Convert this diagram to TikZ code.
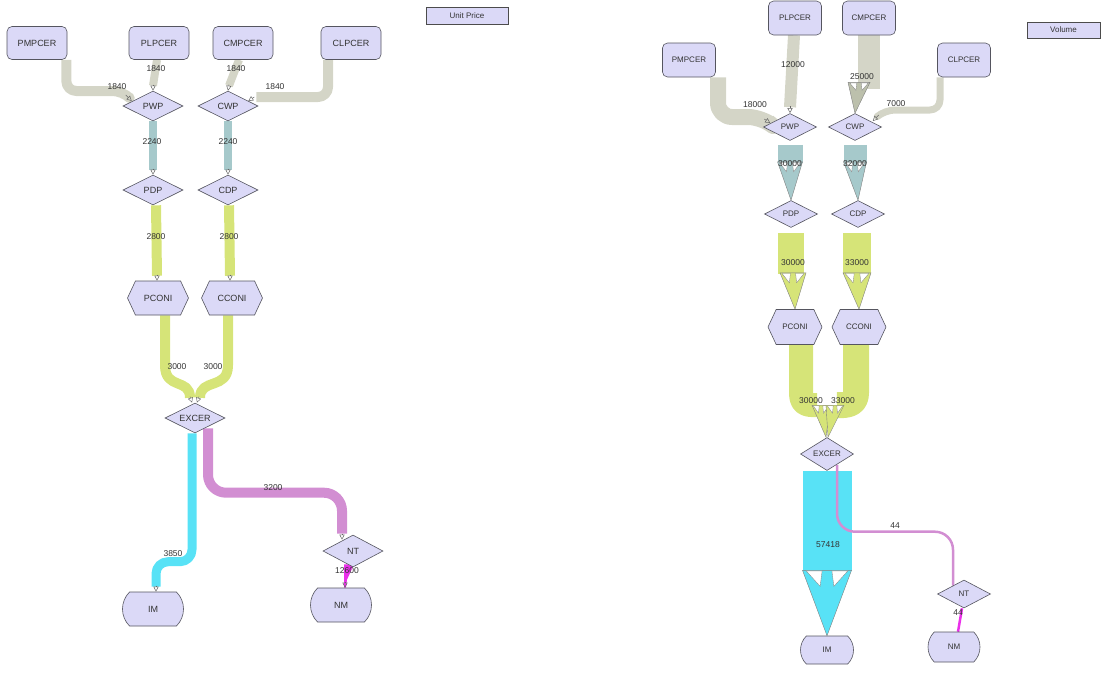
\documentclass[tikz,border=0pt]{standalone}
\usepackage{fontspec}
\setmainfont{Liberation Sans}
\usetikzlibrary{shapes.geometric,shapes.symbols,shapes.misc,calc,arrows.meta}
\definecolor{lav}{RGB}{219,217,247}
\definecolor{nborder}{RGB}{85,85,95}
\definecolor{gflow}{RGB}{212,213,199}
\definecolor{gflowd}{RGB}{188,192,172}
\definecolor{tflow}{RGB}{166,201,203}
\definecolor{yflow}{RGB}{214,228,120}
\definecolor{cflow}{RGB}{88,226,246}
\definecolor{pflow}{RGB}{210,142,210}
\definecolor{mflow}{RGB}{234,48,234}
\pgfdeclarelayer{bg}
\pgfsetlayers{bg,main}
\newcommand{\bigarrow}[5]{%
  \coordinate (ba) at #2; \coordinate (bt) at #4;
  \fill[#1, draw=black!50, line width=.4pt] ($(ba)+(-#3,0)$) -- ($(ba)+(#3,0)$) -- (bt) -- cycle;
  \fill[white, draw=black!50, line width=.3pt] ($(ba)+(-0.85*#3,0.6)$) -- ($(ba)+(-0.2*#3,0.6)$) -- ($(ba)+(-0.28*#3,#5)$) -- cycle;
  \fill[white, draw=black!50, line width=.3pt] ($(ba)+(0.85*#3,0.6)$) -- ($(ba)+(0.2*#3,0.6)$) -- ($(ba)+(0.28*#3,#5)$) -- cycle;
}
\begin{document}
\begin{tikzpicture}[x=1pt,y=-1pt,
  nd/.style={draw=nborder, fill=lav, line width=.6pt, inner sep=0pt, text=black!80},
  boxL/.style={nd, rectangle, rounded corners=5pt, minimum width=60pt, minimum height=33pt, font=\fontsize{9}{10}\selectfont},
  boxR/.style={nd, rectangle, rounded corners=5pt, minimum width=53pt, minimum height=34pt, font=\fontsize{8}{9}\selectfont},
  diaL/.style={nd, diamond, aspect=2, minimum width=60pt, minimum height=30pt, font=\fontsize{9}{10}\selectfont},
  diaR/.style={nd, diamond, aspect=2, minimum width=53pt, minimum height=27pt, font=\fontsize{8}{9}\selectfont},
  hexL/.style={nd, signal, signal to=east and west, signal pointer angle=130, minimum width=61pt, minimum height=34pt, font=\fontsize{9}{10}\selectfont},
  hexR/.style={nd, signal, signal to=east and west, signal pointer angle=130, minimum width=54pt, minimum height=35pt, font=\fontsize{8}{9}\selectfont},
  termL/.style={nd, rounded rectangle, rounded rectangle arc length=90, minimum width=61pt, minimum height=34pt, font=\fontsize{9}{10}\selectfont},
  termR/.style={nd, rounded rectangle, rounded rectangle arc length=90, minimum width=53pt, minimum height=28pt, font=\fontsize{8}{9}\selectfont},
  legend/.style={draw=black!70, fill=lav, line width=.6pt, inner sep=0pt, font=\fontsize{8}{9}\selectfont, text=black!80},
  lbl/.style={font=\fontsize{8.5}{9}\selectfont, text=black!80, inner sep=0pt},
  stip/.style={-{Triangle[open,length=5pt,width=5pt]}, draw=black!60, line width=.5pt},
  fl/.style={line cap=butt, line join=round},
]
\useasboundingbox (0,0) rectangle (1108,673);

% ---------- left panel nodes ----------
\node[boxL] (lPMPCER) at (37,43) {PMPCER};
\node[boxL] (lPLPCER) at (159,43) {PLPCER};
\node[boxL] (lCMPCER) at (243,43) {CMPCER};
\node[boxL] (lCLPCER) at (351,43) {CLPCER};
\node[diaL] (lPWP) at (153,106) {PWP};
\node[diaL] (lCWP) at (228,106) {CWP};
\node[diaL] (lPDP) at (153,190) {PDP};
\node[diaL] (lCDP) at (228,190) {CDP};
\node[hexL] (lPCONI) at (158,298) {PCONI};
\node[hexL] (lCCONI) at (232,298) {CCONI};
\node[diaL] (lEXCER) at (195,418) {EXCER};
\node[diaL, minimum height=32pt] (lNT) at (353,551) {NT};
\node[termL] (lIM) at (153,609) {IM};
\node[termL] (lNM) at (341,605) {NM};
\node[legend, minimum width=82pt, minimum height=17pt] (lLeg) at (467,15.5) {Unit Price};

% ---------- right panel nodes ----------
\node[boxR] (rPLPCER) at (795,18) {PLPCER};
\node[boxR] (rCMPCER) at (869,18) {CMPCER};
\node[boxR] (rPMPCER) at (689,60) {PMPCER};
\node[boxR] (rCLPCER) at (964,60) {CLPCER};
\node[diaR] (rPWP) at (790,127) {PWP};
\node[diaR] (rCWP) at (855,127) {CWP};
\node[diaR] (rPDP) at (791,214) {PDP};
\node[diaR] (rCDP) at (858,214) {CDP};
\node[hexR] (rPCONI) at (795,327) {PCONI};
\node[hexR] (rCCONI) at (859,327) {CCONI};
\node[diaR, minimum height=33pt] (rEXCER) at (827,454) {EXCER};
\node[diaR, minimum height=28pt] (rNT) at (964,594) {NT};
\node[termR] (rIM) at (827,650) {IM};
\node[termR, minimum height=30pt, minimum width=52pt] (rNM) at (954,647) {NM};
\node[legend, minimum width=73pt, minimum height=16pt] (rLeg) at (1063.5,30) {Volume};

\begin{pgfonlayer}{bg}
% ---------- left panel flows ----------
\draw[fl, gflow, line width=10pt, rounded corners=10pt] ([xshift=-1pt]lPMPCER.south east) |- ($(lPWP.west)+(0,-15)$) -- ($(lPWP.west)+(6,-9)$);
\draw[stip] ($(lPWP.west)+(3,-11)$) -- ($(lPWP.west)+(9,-5)$);
\draw[fl, gflow, line width=8pt] ($(lPLPCER.south)+(-2,0)$) -- ($(lPWP.north)+(0,-5)$);
\draw[stip] ($(lPWP.north)+(0,-6)$) -- (lPWP.north);
\draw[fl, gflow, line width=8pt] ($(lCMPCER.south)+(-4,0)$) -- ($(lCWP.north)+(1,-5)$);
\draw[stip] ($(lCWP.north)+(1,-6)$) -- ($(lCWP.north)+(0,0)$);
\draw[fl, gflow, line width=10pt, rounded corners=10pt] ($(lCLPCER.south)+(-23,0)$) |- ($(lCWP.east)+(-2,-9)$);
\draw[stip] ($(lCWP.east)+(-4,-9)$) -- ($(lCWP.east)+(-10,-5)$);

\draw[fl, tflow, line width=8pt] (lPWP.south) -- ($(lPDP.north)+(0,-5)$);
\draw[stip] ($(lPDP.north)+(0,-6)$) -- (lPDP.north);
\draw[fl, tflow, line width=8pt] (lCWP.south) -- ($(lCDP.north)+(0,-5)$);
\draw[stip] ($(lCDP.north)+(0,-6)$) -- (lCDP.north);

\draw[fl, yflow, line width=10pt] ($(lPDP.south)+(3,0)$) -- ($(lPCONI.north)+(-1,-5)$);
\draw[stip] ($(lPCONI.north)+(-1,-6)$) -- ($(lPCONI.north)+(-1,0)$);
\draw[fl, yflow, line width=10pt] ($(lCDP.south)+(1,0)$) -- ($(lCCONI.north)+(-2,-5)$);
\draw[stip] ($(lCCONI.north)+(-2,-6)$) -- ($(lCCONI.north)+(-2,0)$);

\draw[fl, yflow, line width=10pt] ($(lPCONI.south)+(7,0)$) -- ($(lPCONI.south)+(7,50)$) .. controls ($(lPCONI.south)+(7,75)$) and ($(lEXCER.north)+(-5,-25)$) .. ($(lEXCER.north)+(-5,-5)$);
\draw[stip] ($(lEXCER.north)+(-5,-6)$) -- ($(lEXCER.north)+(-3,0)$);
\draw[fl, yflow, line width=10pt] ($(lCCONI.south)+(-4,0)$) -- ($(lCCONI.south)+(-4,50)$) .. controls ($(lCCONI.south)+(-4,75)$) and ($(lEXCER.north)+(5,-25)$) .. ($(lEXCER.north)+(5,-5)$);
\draw[stip] ($(lEXCER.north)+(4,-6)$) -- ($(lEXCER.north)+(2,0)$);

\draw[fl, cflow, line width=9pt, rounded corners=12pt] ($(lEXCER.south)+(-3,0)$) |- ($(lIM.north)+(3,-30)$) -- ($(lIM.north)+(3,-5)$);
\draw[stip] ($(lIM.north)+(3,-6)$) -- ($(lIM.north)+(3,0)$);

\draw[fl, pflow, line width=10pt, rounded corners=18pt] ($(lEXCER.south)+(13,-5)$) |- ($(lNT.north)+(-11,-42)$) -- ($(lNT.north)+(-11,-1)$);
\draw[stip] ($(lNT.north)+(-11,-1)$) -- ($(lNT.north)+(-11,5)$);

\fill[mflow] ($(lNT.south)+(-9,-3)$) -- ($(lNT.south)+(1,-3)$) -- ($(lNM.north)+(6,-8)$) -- ($(lNM.north)+(5,0)$) -- ($(lNM.north)+(3,0)$) -- cycle;
\draw[stip] ($(lNM.north)+(4,-6)$) -- ($(lNM.north)+(4,0)$);

% ---------- right panel flows ----------
\draw[fl, gflow, line width=16pt, rounded corners=14pt] ($(rPMPCER.south)+(29,0)$) |- ($(rPWP.west)+(-1,-10)$) -- ($(rPWP.west)+(5,-5)$);
\draw[stip] ($(rPWP.west)+(1,-8)$) -- ($(rPWP.west)+(7,-4)$);
\draw[fl, gflow, line width=12pt] ($(rPLPCER.south)+(-1,0)$) -- ($(rPWP.north)+(0,-6)$);
\draw[stip] ($(rPWP.north)+(0,-7)$) -- (rPWP.north);
\draw[fl, gflow, line width=22pt] (rCMPCER.south) -- ($(rCMPCER.south)+(0,54)$);
\bigarrow{gflowd}{($(rCMPCER.south)+(-10,47)$)}{11}{(rCWP.north)}{8}
\draw[fl, gflow, line width=7pt, rounded corners=10pt] ($(rCLPCER.south)+(-24,0)$) |- ($(rCWP.east)+(3,-17)$) -- ($(rCWP.east)+(-4,-11)$);
\draw[stip] ($(rCWP.east)+(-3,-12)$) -- ($(rCWP.east)+(-9,-6)$);

\draw[fl, tflow, line width=25pt] ($(rPWP.south)+(0,4)$) -- ($(rPWP.south)+(0,22)$);
\bigarrow{tflow}{($(rPWP.south)+(0,21)$)}{12.5}{(rPDP.north)}{10}
\draw[fl, tflow, line width=23pt] ($(rCWP.south)+(0,4)$) -- ($(rCWP.south)+(0,22)$);
\bigarrow{tflow}{($(rCWP.south)+(0,21)$)}{11.5}{(rCDP.north)}{10}

\draw[fl, yflow, line width=26pt] ($(rPDP.south)+(0,5)$) -- ($(rPDP.south)+(0,46)$);
\bigarrow{yflow}{($(rPDP.south)+(2,45)$)}{13}{(rPCONI.north)}{10}
\draw[fl, yflow, line width=28pt] ($(rCDP.south)+(-1,5)$) -- ($(rCDP.south)+(-1,46)$);
\bigarrow{yflow}{($(rCDP.south)+(-1,45)$)}{14}{(rCCONI.north)}{10}

\draw[fl, yflow, line width=24pt] ($(rPCONI.south)+(6,0)$) -- ($(rPCONI.south)+(6,48)$) .. controls ($(rPCONI.south)+(6,60)$) and ($(rEXCER.north)+(-20,-32)$) .. ($(rEXCER.north)+(-10,-32)$);
\draw[fl, yflow, line width=26pt] ($(rCCONI.south)+(-3,0)$) -- ($(rCCONI.south)+(-3,48)$) .. controls ($(rCCONI.south)+(-3,60)$) and ($(rEXCER.north)+(20,-32)$) .. ($(rEXCER.north)+(10,-32)$);
\bigarrow{yflow}{($(rEXCER.north)+(-6,-32)$)}{9}{($(rEXCER.north)+(-1,0)$)}{8}
\bigarrow{yflow}{($(rEXCER.north)+(8,-32)$)}{9}{($(rEXCER.north)+(1,0)$)}{8}

\draw[fl, cflow, line width=49pt] (rEXCER.south) -- ($(rEXCER.south)+(0,100)$);
\bigarrow{cflow}{($(rEXCER.south)+(0,99.5)$)}{24.5}{(rIM.north)}{16}

\draw[pflow, line width=2.5pt, rounded corners=18pt] ($(rEXCER.south)+(10,-6)$) |- ($(rNT.north)+(-11,-48)$) -- ($(rNT.north)+(-11,6)$);
\draw[mflow, line width=2.5pt] ($(rNT.south)+(-2,0)$) -- ($(rNM.north)+(4,0)$);
\end{pgfonlayer}

% ---------- labels ----------
\node[lbl] (t1) at (117,87) {1840};
\node[lbl] (t2) at (156,69) {1840};
\node[lbl] (t3) at (236,69) {1840};
\node[lbl] (t4) at (275,87) {1840};
\node[lbl] (t5) at (152,142) {2240};
\node[lbl] (t6) at (228,142) {2240};
\node[lbl] (t7) at (156,237) {2800};
\node[lbl] (t8) at (229,237) {2800};
\node[lbl] (t9) at (177,367) {3000};
\node[lbl] (t10) at (213,367) {3000};
\node[lbl] (t11) at (173,554) {3850};
\node[lbl] (t12) at (273,488) {3200};
\node[lbl] (t13) at (347,571) {12600};

\node[lbl] (u1) at (755,105) {18000};
\node[lbl] (u2) at (793,65) {12000};
\node[lbl] (u3) at (862,77) {25000};
\node[lbl] (u4) at (896,104) {7000};
\node[lbl] (u5) at (790,164) {30000};
\node[lbl] (u6) at (855,164) {32000};
\node[lbl] (u7) at (793,263) {30000};
\node[lbl] (u8) at (857,263) {33000};
\node[lbl] (u9) at (811,401) {30000};
\node[lbl] (u10) at (843,401) {33000};
\node[lbl] (u11) at (828,545) {57418};
\node[lbl] (u12) at (895,526) {44};
\node[lbl] (u13) at (958,613) {44};
\end{tikzpicture}
\end{document}
